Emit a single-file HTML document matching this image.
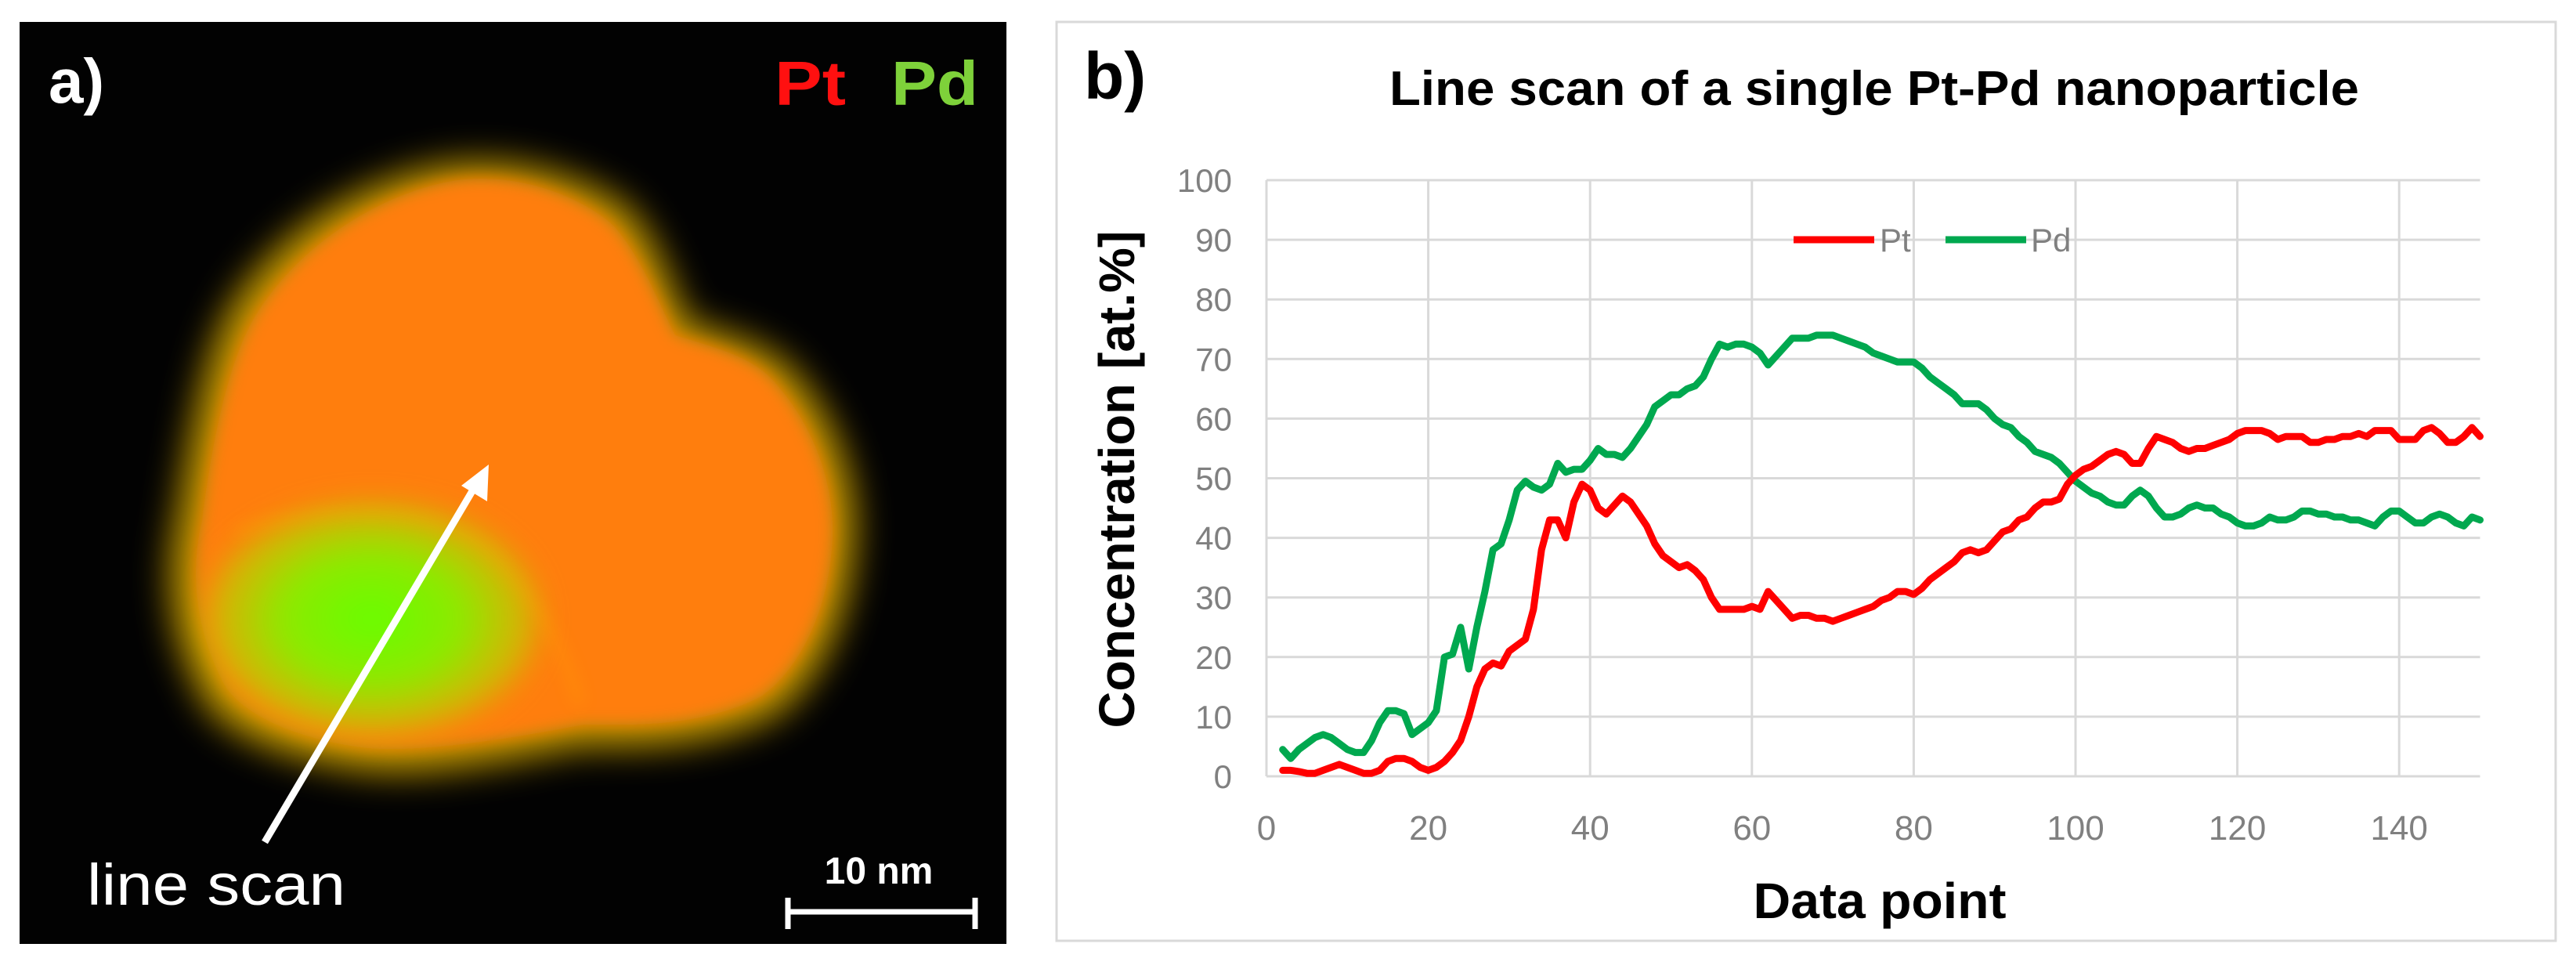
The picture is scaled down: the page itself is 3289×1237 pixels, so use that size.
<!DOCTYPE html>
<html><head><meta charset="utf-8"><style>
html,body{margin:0;padding:0;background:#fff;}
svg{display:block;}
</style></head><body>
<svg id="fig" width="3289" height="1237" viewBox="0 0 3289 1237" xmlns="http://www.w3.org/2000/svg">
<defs>
<filter id="b1" x="-30%" y="-30%" width="160%" height="160%"><feGaussianBlur stdDeviation="22"/></filter>
<filter id="b2" x="-30%" y="-30%" width="160%" height="160%"><feGaussianBlur stdDeviation="10"/></filter>
<filter id="b4" x="-30%" y="-30%" width="160%" height="160%"><feGaussianBlur stdDeviation="18"/></filter>
<radialGradient id="gg" cx="0.5" cy="0.5" r="0.55"><stop offset="0" stop-color="#66ff00"/><stop offset="0.5" stop-color="#8fe800"/><stop offset="0.85" stop-color="#c0d000" stop-opacity="0.6"/><stop offset="1" stop-color="#d8b000" stop-opacity="0"/></radialGradient>
</defs>
<g>
<rect x="25" y="28" width="1260" height="1177" fill="#020202"/>
<path filter="url(#b1)" fill="#b89000" d="M610,205 C700,205 770,240 800,262 C840,300 860,370 880,410 C930,425 990,440 1020,480 C1080,550 1100,640 1092,700 C1085,800 1040,880 990,915 C900,960 800,955 742,955 C640,975 540,995 462,985 C360,970 270,935 252,880 C210,800 210,720 225,660 C240,560 260,440 300,380 C380,260 520,205 610,205 Z"/>
<path filter="url(#b2)" fill="#ff7e0e" d="M612,228 C690,228 750,260 780,285 C815,320 840,385 862,428 C915,445 965,455 995,495 C1050,560 1068,640 1062,700 C1055,790 1015,860 970,890 C890,930 800,925 745,925 C640,945 540,960 470,955 C380,945 300,910 282,865 C245,790 245,720 258,665 C270,570 290,465 325,405 C395,290 530,228 612,228 Z"/>
<ellipse cx="475" cy="790" rx="215" ry="150" fill="url(#gg)" filter="url(#b4)"/>
<path d="M300,680 C420,640 560,650 620,700 C680,760 720,820 740,900" stroke="#ffb000" stroke-width="10" fill="none" opacity="0.3" filter="url(#b2)"/>
<line x1="338" y1="1075" x2="610" y2="615" stroke="#fff" stroke-width="9"/>
<polygon points="624,593 622,640 589,620" fill="#fff"/>
<text x="111" y="1155" font-family="Liberation Sans, sans-serif" font-size="74" fill="#fff" textLength="330" lengthAdjust="spacingAndGlyphs">line scan</text>
<text x="62" y="131" font-family="Liberation Sans, sans-serif" font-weight="bold" font-size="80" fill="#fff">a)</text>
<text x="989" y="134" font-family="Liberation Sans, sans-serif" font-weight="bold" font-size="80" fill="#ff1010" textLength="91" lengthAdjust="spacingAndGlyphs">Pt</text>
<text x="1138" y="134" font-family="Liberation Sans, sans-serif" font-weight="bold" font-size="80" fill="#7ed13a" textLength="111" lengthAdjust="spacingAndGlyphs">Pd</text>
<text x="1122" y="1128" text-anchor="middle" font-family="Liberation Sans, sans-serif" font-weight="bold" font-size="48" fill="#fff">10 nm</text>
<g stroke="#fff" stroke-width="7">
<line x1="1006" y1="1164" x2="1245" y2="1164"/><line x1="1006" y1="1146" x2="1006" y2="1186"/><line x1="1245" y1="1146" x2="1245" y2="1186"/>
</g>
</g>
<rect x="1349" y="28" width="1914" height="1173" fill="#fff" stroke="#d9d9d9" stroke-width="3"/>
<text x="1384" y="126" font-family="Liberation Sans, sans-serif" font-weight="bold" font-size="84" fill="#000">b)</text>
<text x="2393" y="134" text-anchor="middle" font-family="Liberation Sans, sans-serif" font-weight="bold" font-size="62" fill="#000" textLength="1238" lengthAdjust="spacingAndGlyphs">Line scan of a single Pt-Pd nanoparticle</text>
<g id="grid"></g>
<g id="ticks"></g>
<g id="series"></g>
<text transform="translate(1448,612) rotate(-90)" text-anchor="middle" font-family="Liberation Sans, sans-serif" font-weight="bold" font-size="64" fill="#000" textLength="635" lengthAdjust="spacingAndGlyphs">Concentration [at.%]</text>
<text x="2400" y="1172" text-anchor="middle" font-family="Liberation Sans, sans-serif" font-weight="bold" font-size="64" fill="#000" textLength="323" lengthAdjust="spacingAndGlyphs">Data point</text>
<g>
<line x1="2290" y1="306" x2="2393" y2="306" stroke="#ff0000" stroke-width="9"/>
<text x="2400" y="321" font-family="Liberation Sans, sans-serif" font-size="42" fill="#808080">Pt</text>
<line x1="2484" y1="306" x2="2587" y2="306" stroke="#00a84f" stroke-width="9"/>
<text x="2593" y="321" font-family="Liberation Sans, sans-serif" font-size="42" fill="#808080">Pd</text>
</g>
</svg>
<script>
const xTicks = [0,20,40,60,80,100,120,140];
const yTicks = [0,10,20,30,40,50,60,70,80,90,100];
const dataPoints = [2,3,4,5,6,7,8,9,10,11,12,13,14,15,16,17,18,19,20,21,22,23,24,25,26,27,28,29,30,31,32,33,34,35,36,37,38,39,40,41,42,43,44,45,46,47,48,49,50,51,52,53,54,55,56,57,58,59,60,61,62,63,64,65,66,67,68,69,70,71,72,73,74,75,76,77,78,79,80,81,82,83,84,85,86,87,88,89,90,91,92,93,94,95,96,97,98,99,100,101,102,103,104,105,106,107,108,109,110,111,112,113,114,115,116,117,118,119,120,121,122,123,124,125,126,127,128,129,130,131,132,133,134,135,136,137,138,139,140,141,142,143,144,145,146,147,148,149,150];
const ptValues = [1,1,0.8,0.5,0.5,1,1.5,2,1.5,1,0.5,0.5,1,2.5,3,3,2.5,1.5,1,1.5,2.5,4,6,10,15,18,19,18.5,21,22,23,28,38,43,43,40,46,49,48,45,44,45.5,47,46,44,42,39,37,36,35,35.5,34.5,33,30,28,28,28,28,28.5,28,31,29.5,28,26.5,27,27,26.5,26.5,26,26.5,27,27.5,28,28.5,29.5,30,31,31,30.5,31.5,33,34,35,36,37.5,38,37.5,38,39.5,41,41.5,43,43.5,45,46,46,46.5,49,50.5,51.5,52,53,54,54.5,54,52.5,52.5,55,57,56.5,56,55,54.5,55,55,55.5,56,56.5,57.5,58,58,58,57.5,56.5,57,57,57,56,56,56.5,56.5,57,57,57.5,57,58,58,58,56.5,56.5,56.5,58,58.5,57.5,56,56,57,58.5,57];
const pdValues = [4.5,3,4.5,5.5,6.5,7,6.5,5.5,4.5,4,4,6,9,11,11,10.5,7,8,9,11,20,20.5,25,18,25,31,38,39,43,48,49.5,48.5,48,49,52.5,51,51.5,51.5,53,55,54,54,53.5,55,57,59,62,63,64,64,65,65.5,67,70,72.5,72,72.5,72.5,72,71,69,70.5,72,73.5,73.5,73.5,74,74,74,73.5,73,72.5,72,71,70.5,70,69.5,69.5,69.5,68.5,67,66,65,64,62.5,62.5,62.5,61.5,60,59,58.5,57,56,54.5,54,53.5,52.5,51,49.5,48.5,47.5,47,46,45.5,45.5,47,48,47,45,43.5,43.5,44,45,45.5,45,45,44,43.5,42.5,42,42,42.5,43.5,43,43,43.5,44.5,44.5,44,44,43.5,43.5,43,43,42.5,42,43.5,44.5,44.5,43.5,42.5,42.5,43.5,44,43.5,42.5,42,43.5,43];

const NS = 'http://www.w3.org/2000/svg';
const X0 = 1617, PXX = 10.33, Y0 = 991, PXY = 7.61, XMAX = 150, YMAX = 100;
function sx(v){ return X0 + v*PXX; }
function sy(v){ return Y0 - v*PXY; }
const grid = document.getElementById('grid');
const ticks = document.getElementById('ticks');
const series = document.getElementById('series');

yTicks.forEach(function(t){
  const l = document.createElementNS(NS,'line');
  
  
  l.setAttribute('x1', X0); l.setAttribute('x2', sx(XMAX));
  l.setAttribute('y1', sy(t)); l.setAttribute('y2', sy(t));
  l.setAttribute('stroke', '#d9d9d9'); l.setAttribute('stroke-width', '3');
  grid.appendChild(l);
  const tx = document.createElementNS(NS,'text');
  
  
  tx.setAttribute('x', 1573); tx.setAttribute('y', sy(t) + 15);
  tx.setAttribute('text-anchor', 'end');
  tx.setAttribute('font-family', 'Liberation Sans, sans-serif');
  tx.setAttribute('font-size', '42'); tx.setAttribute('fill', '#808080');
  tx.textContent = String(t);
  ticks.appendChild(tx);
});
xTicks.forEach(function(t){
  const l = document.createElementNS(NS,'line');
  
  
  l.setAttribute('x1', sx(t)); l.setAttribute('x2', sx(t));
  l.setAttribute('y1', sy(YMAX)); l.setAttribute('y2', sy(0));
  l.setAttribute('stroke', '#d9d9d9'); l.setAttribute('stroke-width', '3');
  grid.appendChild(l);
  const tx = document.createElementNS(NS,'text');
  
  
  tx.setAttribute('x', sx(t)); tx.setAttribute('y', 1072);
  tx.setAttribute('text-anchor', 'middle');
  tx.setAttribute('font-family', 'Liberation Sans, sans-serif');
  tx.setAttribute('font-size', '44'); tx.setAttribute('fill', '#808080');
  tx.textContent = String(t);
  ticks.appendChild(tx);
});
function drawLine(vals, color, name){
  let d = '';
  vals.forEach(function(v,i){ d += (i ? 'L' : 'M') + sx(dataPoints[i]).toFixed(1) + ',' + sy(v).toFixed(1); });
  const p = document.createElementNS(NS,'path');
  
  
  p.setAttribute('d', d);
  p.setAttribute('fill', 'none'); p.setAttribute('stroke', color);
  p.setAttribute('stroke-width', '9'); p.setAttribute('stroke-linejoin', 'round'); p.setAttribute('stroke-linecap', 'round');
  series.appendChild(p);
}
drawLine(pdValues, '#00a84f', 'pd-line');
drawLine(ptValues, '#ff0000', 'pt-line');
</script>
</body></html>
